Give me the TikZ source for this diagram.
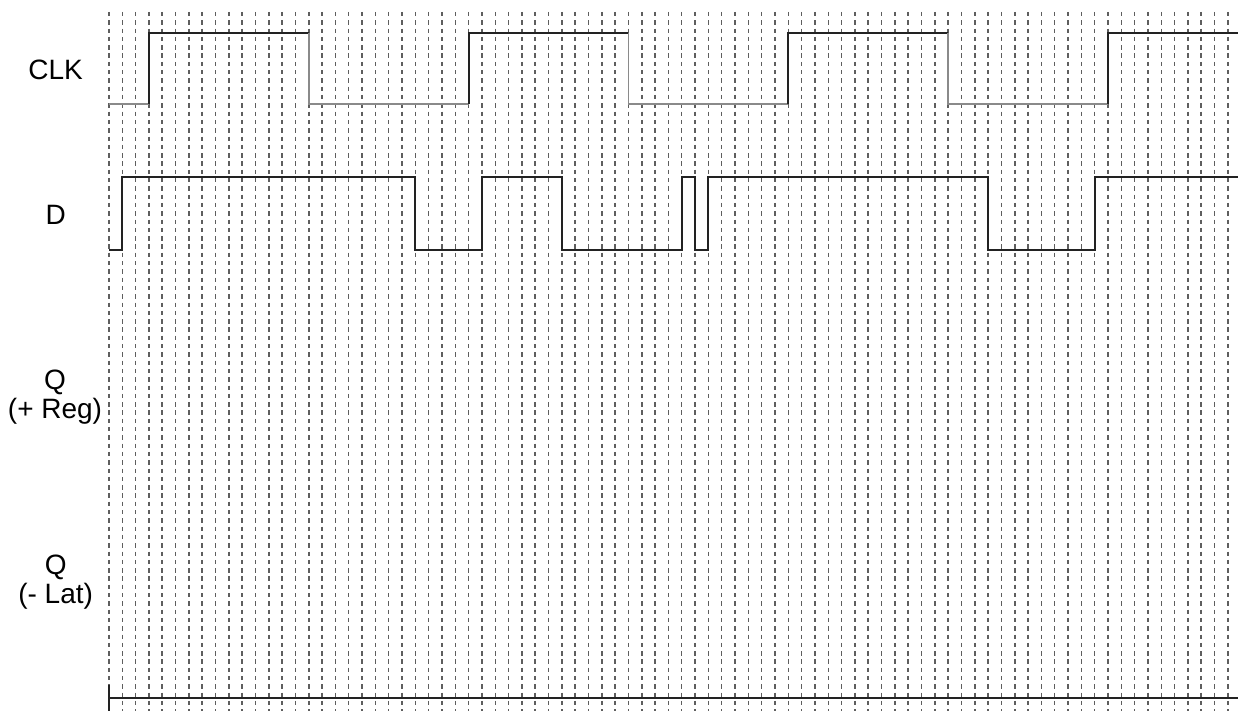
\documentclass[tikz,border=0pt]{standalone}
\usepackage{fontspec}
\setmainfont{Liberation Sans}
\usepackage{tikz}
\usetikzlibrary{positioning,calc}
\definecolor{tdInk}{HTML}{222222}
\definecolor{tdFaint}{HTML}{8A8A8A}
\definecolor{tdGridCol}{HTML}{5E5E5E}
\tikzset{
    % Grid
    tdGrid/.style={
        draw=tdGridCol,
        line width=0.75pt,
        dash pattern=on 2.2pt off 1.95pt
    },
    % Waveforms
    tdSignal/.style={draw=tdInk, line width=1pt, line join=miter},
    tdSignalFaint/.style={draw=tdFaint, line width=0.75pt},
    tdAxis/.style={draw=tdInk, line width=0.9pt},
    % Labels
    tdLabel/.style={
        font=\fontsize{14}{14.5}\selectfont,
        align=center,
        inner sep=0pt
    }
}
\begin{document}
\begin{tikzpicture}[x=6.66pt, y=-0.5pt]
    \useasboundingbox (-8.18,0) rectangle (84.76,711);

    % time grid
    \foreach \i in {0,...,84}
        \draw[tdGrid] (\i,12) -- (\i,711);

    % signal names
    \node[tdLabel] (clkName) at (-4,70) {CLK};
    \node[tdLabel] (dName) at (-4,215) {D};
    \node[tdLabel] (qRegName) at (-4.05,397) {Q\\(+ Reg)};
    \node[tdLabel] (qLatName) at (-4,582) {Q\\(- Lat)};

    % CLK
    \draw[tdSignalFaint] (0,104) -- (3,104);
    \draw[tdSignal] (3,104) -- (3,33) -- (15,33);
    \draw[tdSignalFaint] (15,33) -- (15,104) -- (27,104);
    \draw[tdSignal] (27,104) -- (27,33) -- (39,33);
    \draw[tdSignalFaint] (39,33) -- (39,104) -- (51,104);
    \draw[tdSignal] (51,104) -- (51,33) -- (63,33);
    \draw[tdSignalFaint] (63,33) -- (63,104) -- (75,104);
    \draw[tdSignal] (75,104) -- (75,33) -- (84.76,33);

    % D
    \draw[tdSignal] (0,250) -- (1,250) -- (1,177) -- (23,177) -- (23,250)
        -- (28,250) -- (28,177) -- (34,177) -- (34,250)
        -- (43,250) -- (43,177) -- (44,177) -- (44,250)
        -- (45,250) -- (45,177) -- (66,177) -- (66,250)
        -- (74,250) -- (74,177) -- (84.76,177);

    % time axis
    \draw[tdAxis] (0,698) -- (84.76,698);
    \draw[tdAxis] (0,685) -- (0,711);
\end{tikzpicture}
\end{document}
